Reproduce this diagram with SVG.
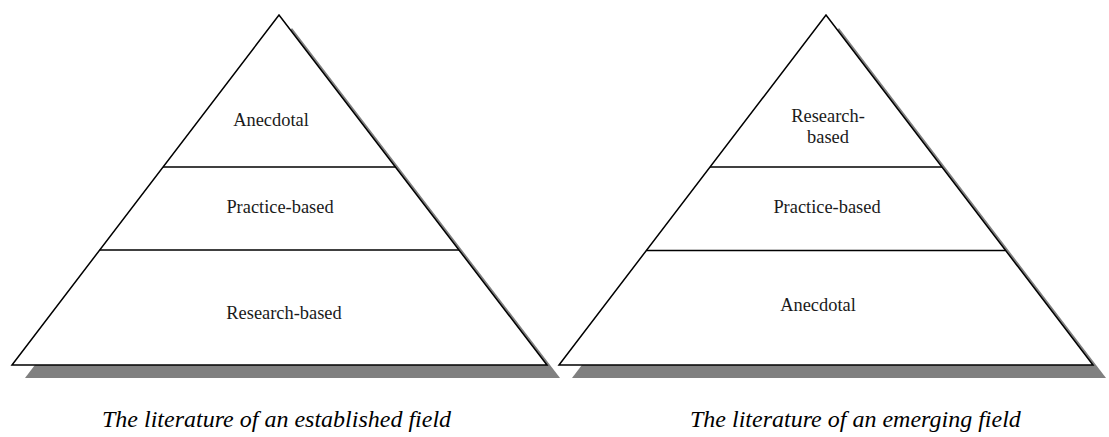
<svg xmlns="http://www.w3.org/2000/svg" width="1109" height="437" viewBox="0 0 1109 437">
<style>
.shadow{fill:#808080;stroke:none}
.tri{fill:#fff;stroke:#000;stroke-width:1.5;stroke-linejoin:miter}
.div{stroke:#000;stroke-width:1.5}
.lbl{font-family:"Liberation Serif","Times New Roman",serif;font-size:18.4px;fill:#1a1a1a;text-anchor:middle}
.cap{font-family:"Liberation Serif","Times New Roman",serif;font-size:24px;font-style:italic;fill:#000}
</style>
<rect width="1109" height="437" fill="#fff"/>
<g id="pyramid-established">
<polygon class="shadow" points="25,378 292,28 560,378"/>
<polygon class="tri" points="12,365 279,15 547,365"/>
<line class="div" x1="163" y1="167" x2="395.5" y2="167"/>
<line class="div" x1="99.7" y1="250" x2="459" y2="250"/>
<g id="est-anecdotal"><text class="lbl" x="271" y="126">Anecdotal</text></g>
<g id="est-practice"><text class="lbl" x="280" y="213">Practice-based</text></g>
<g id="est-research"><text class="lbl" x="284" y="319">Research-based</text></g>
<text class="cap" x="102" y="427">The literature of an established field</text>
</g>
<g id="pyramid-emerging">
<polygon class="shadow" points="572,378 839,28 1106,378"/>
<polygon class="tri" points="559,365 826,15 1093,365"/>
<line class="div" x1="710" y1="167" x2="942" y2="167"/>
<line class="div" x1="646.4" y1="250.5" x2="1005.6" y2="250.5"/>
<g id="emg-research"><text class="lbl" x="828" y="122">Research-</text><text class="lbl" x="828" y="143">based</text></g>
<g id="emg-practice"><text class="lbl" x="827" y="213">Practice-based</text></g>
<g id="emg-anecdotal"><text class="lbl" x="818" y="311">Anecdotal</text></g>
<text class="cap" x="690" y="427">The literature of an emerging field</text>
</g>
<g id="connectors"/>
</svg>
